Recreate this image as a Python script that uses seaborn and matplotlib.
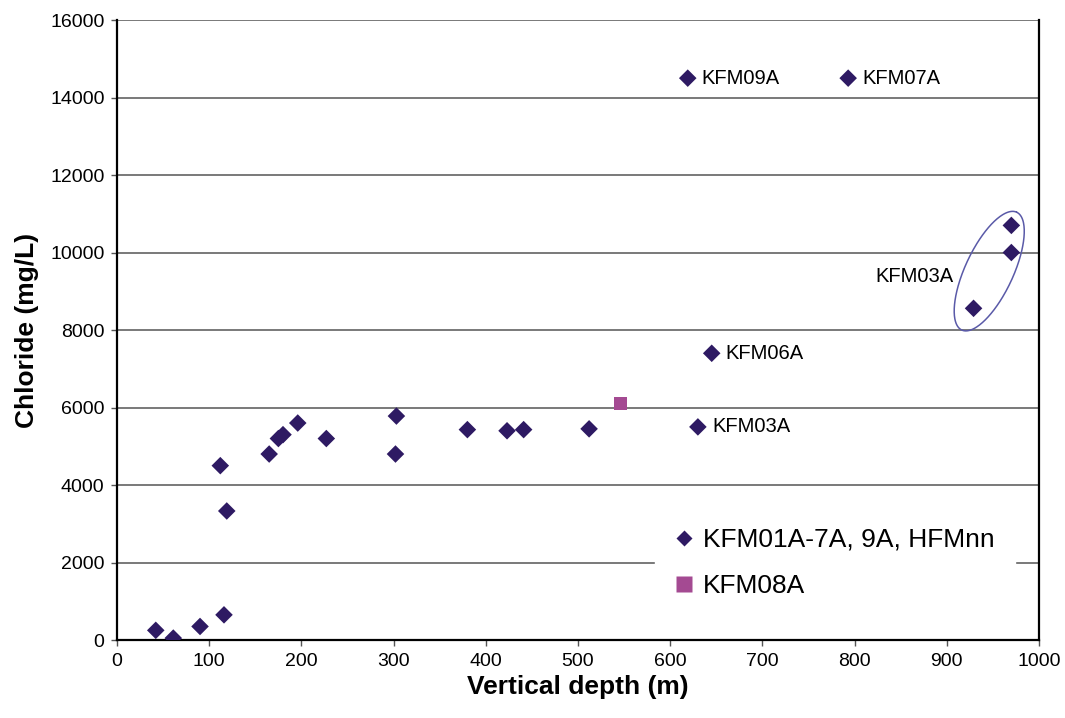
import numpy as np
import pandas as pd
import matplotlib
matplotlib.use("Agg")
import matplotlib.pyplot as plt
from matplotlib.lines import Line2D
import seaborn as sns

# --- data ---
depth_main = [42, 61, 90, 116, 112, 119, 165, 175, 180, 196, 227, 303, 302,
              380, 423, 441, 512, 630, 645, 619, 793, 929, 970, 970]
chloride_main = [250, 50, 350, 650, 4500, 3330, 4800, 5200, 5300, 5600, 5200,
                 5780, 4800, 5430, 5400, 5430, 5450, 5500, 7400, 14500, 14500,
                 8560, 10700, 10000]
depth_k08 = [546]
chloride_k08 = [6100]

label_names = ["KFM09A", "KFM07A", "KFM06A", "KFM03A"]
label_x = [619, 793, 645, 630]
label_y = [14500, 14500, 7400, 5500]

series_names = ["KFM01A-7A, 9A, HFMnn", "KFM08A"]
xticks = list(range(0, 1001, 100))
yticks = list(range(0, 16001, 2000))

df = pd.DataFrame({
    "depth": depth_main + depth_k08,
    "chloride": chloride_main + chloride_k08,
    "series": [series_names[0]] * len(depth_main) + [series_names[1]] * len(depth_k08),
})

sns.set_style("white")
plt.rcParams["font.family"] = ["Liberation Sans", "DejaVu Sans"]
plt.rcParams["text.color"] = "black"
plt.rcParams["axes.labelcolor"] = "black"

fig = plt.figure(figsize=(10.65, 7.18), dpi=100)
ax = fig.add_axes([0.1099, 0.1086, 0.8657, 0.8635])

purple = "#2E1A63"
magenta = "#A44A92"

sns.scatterplot(data=df, x="depth", y="chloride", hue="series", style="series",
                markers={series_names[0]: "D", series_names[1]: "s"},
                palette={series_names[0]: purple, series_names[1]: magenta},
                s=80, linewidth=0, ax=ax, zorder=3, legend=False)

ax.set_xlim(0, 1000)
ax.set_ylim(0, 16000)
ax.set_xticks(xticks)
ax.set_yticks(yticks)
ax.tick_params(axis="both", labelsize=14, direction="out", length=4, width=1,
               color="#555555", labelcolor="black", bottom=True, left=True, pad=5)
for yv in yticks[1:]:
    ax.axhline(yv, color="#555555", lw=1.1, zorder=1)
for side in ["left", "bottom", "right"]:
    ax.spines[side].set_color("black")
    ax.spines[side].set_linewidth(1.6)
ax.spines["top"].set_visible(False)

ax.set_xlabel("Vertical depth (m)", fontsize=19, fontweight="bold", labelpad=4)
ax.set_ylabel("Chloride (mg/L)", fontsize=19, fontweight="bold", labelpad=8)

for name, xv, yv in zip(label_names, label_x, label_y):
    ax.annotate(name, (xv, yv), xytext=(14, 0), textcoords="offset pixels",
                fontsize=14.5, va="center", ha="left")
ax.text(822, 9370, "KFM03A", fontsize=14.5, va="center", ha="left")

# ellipse around the deep KFM03A samples (drawn in pixel-like units)
sx = 0.922   # px per m
sy = 0.03875  # px per mg/L
cx, cy = 946, 9520
a_px, b_px, phi = 65, 24, np.deg2rad(65)
t = np.linspace(0, 2 * np.pi, 300)
ex = cx + (a_px * np.cos(t) * np.cos(phi) - b_px * np.sin(t) * np.sin(phi)) / sx
ey = cy + (a_px * np.cos(t) * np.sin(phi) + b_px * np.sin(t) * np.cos(phi)) / sy
ax.plot(ex, ey, color="#5A5AA8", lw=1.1, zorder=2)

handles = [Line2D([], [], marker="D", color="none", markerfacecolor=purple,
                  markeredgecolor="none", markersize=8),
           Line2D([], [], marker="s", color="none", markerfacecolor=magenta,
                  markeredgecolor="none", markersize=11)]
leg = ax.legend(handles, series_names, loc="center", bbox_to_anchor=(0.779, 0.124),
                fontsize=19, frameon=True, facecolor="white", edgecolor="white",
                framealpha=1, fancybox=False, handlelength=0.6, handletextpad=0.4,
                labelspacing=0.85, borderpad=0.8)
leg.set_zorder(5)

fig.savefig("out.png", dpi=100)
